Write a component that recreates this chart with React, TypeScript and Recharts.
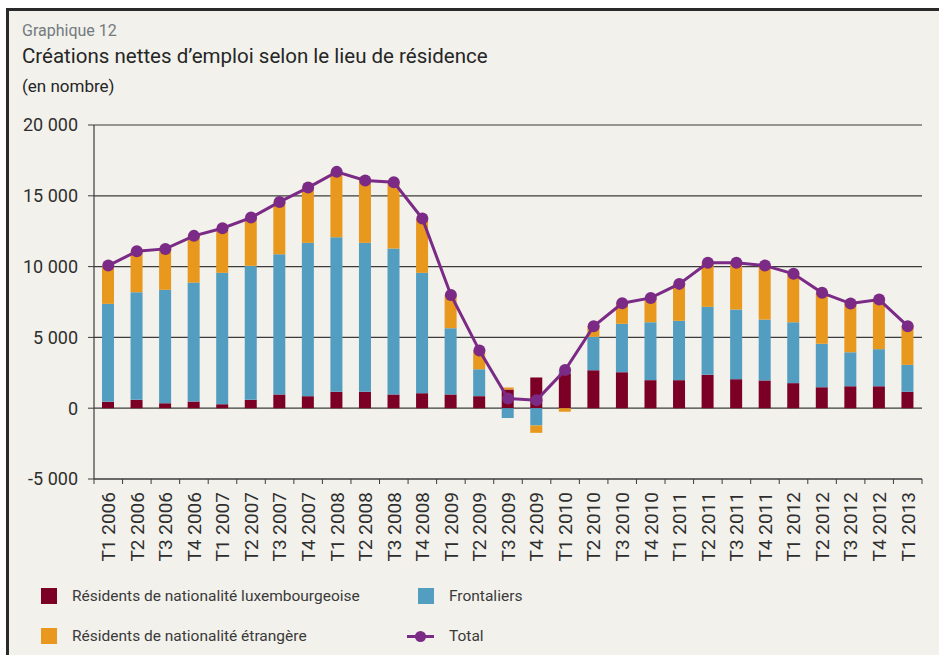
import React from "react";
import {
  Bar,
  CartesianGrid,
  ComposedChart,
  Line,
  XAxis,
  YAxis,
} from "recharts";

const quarters = [
  "T1 2006", "T2 2006", "T3 2006", "T4 2006",
  "T1 2007", "T2 2007", "T3 2007", "T4 2007",
  "T1 2008", "T2 2008", "T3 2008", "T4 2008",
  "T1 2009", "T2 2009", "T3 2009", "T4 2009",
  "T1 2010", "T2 2010", "T3 2010", "T4 2010",
  "T1 2011", "T2 2011", "T3 2011", "T4 2011",
  "T1 2012", "T2 2012", "T3 2012", "T4 2012",
  "T1 2013",
];

// Résidents de nationalité luxembourgeoise
const luxembourgeois = [
  450, 590, 350, 470, 280, 590, 970, 850, 1160, 1160, 970, 1060,
  970, 850, 1320, 2170, 2470, 2680, 2540, 1980, 1980, 2360, 2050, 1960,
  1770, 1480, 1550, 1550, 1160,
];

// Frontaliers
const frontaliers = [
  6920, 7600, 8010, 8400, 9280, 9460, 9900, 10830, 10910, 10520, 10310, 8500,
  4680, 1900, -700, -1220, 200, 2360, 3420, 4090, 4190, 4800, 4920, 4300,
  4300, 3070, 2400, 2620, 1900,
];

// Résidents de nationalité étrangère
const etrangers = [
  2700, 2890, 2890, 3300, 3150, 3410, 3700, 3900, 4620, 4400, 4680, 3830,
  2350, 1320, 140, -520, -250, 750, 1450, 1720, 2610, 3110, 3300, 3810,
  3420, 3600, 3440, 3500, 2730,
];

const total = [
  10070, 11080, 11250, 12170, 12710, 13460, 14570, 15580, 16690, 16080, 15960, 13390,
  8000, 4070, 690, 570, 2700, 5790, 7410, 7790, 8780, 10270, 10270, 10070,
  9490, 8150, 7390, 7670, 5790,
];

const yTicks = [-5000, 0, 5000, 10000, 15000, 20000];

const COLORS = {
  lux: "#7c0025",
  front: "#529dc0",
  etr: "#e8981d",
  total: "#7b2a85",
  grid: "#3c3c3c",
  text: "#2e2e2e",
};

const W = 939;
const H = 655;
const M = { top: 125, right: 17, left: 0, bottom: 86 };
const Y_AXIS_W = 94;
const BAND = (W - M.right - M.left - Y_AXIS_W) / quarters.length;

const data = quarters.map((q, i) => ({
  q,
  lux: luxembourgeois[i],
  front: frontaliers[i],
  etr: etrangers[i],
  total: total[i],
}));

const fmt = (v: number) => {
  const s = Math.abs(v).toString().replace(/\B(?=(\d{3})+(?!\d))/g, " ");
  return v < 0 ? `-${s}` : s;
};

const FONT = "Roboto, 'Open Sans', sans-serif";

function QuarterTick(props: any) {
  const { x, y, payload, index } = props;
  const last = index === quarters.length - 1;
  return (
    <g>
      <line x1={x - BAND / 2} x2={x - BAND / 2} y1={y - 13} y2={y - 8} stroke={COLORS.grid} />
      {last && (
        <line x1={x + BAND / 2} x2={x + BAND / 2} y1={y - 13} y2={y - 8} stroke={COLORS.grid} />
      )}
      <text
        x={x}
        y={y}
        transform={`rotate(-90 ${x} ${y})`}
        textAnchor="end"
        dy="0.36em"
        fontSize={19}
        fill={COLORS.text}
        fontFamily={FONT}
      >
        {payload.value}
      </text>
    </g>
  );
}

function Swatch({ color }: { color: string }) {
  return (
    <span
      style={{
        position: "absolute",
        left: 0,
        top: 0,
        width: 16,
        height: 16,
        background: color,
      }}
    />
  );
}

function LegendItem({
  left,
  top,
  label,
  children,
}: {
  left: number;
  top: number;
  label: string;
  children: React.ReactNode;
}) {
  return (
    <div style={{ position: "absolute", left, top, height: 16 }}>
      {children}
      <span
        style={{
          position: "absolute",
          left: 31,
          top: -2,
          whiteSpace: "nowrap",
          fontSize: 15.5,
          color: "#3a3a3a",
          lineHeight: "20px",
        }}
      >
        {label}
      </span>
    </div>
  );
}

export default function App() {
  return (
    <div
      style={{
        position: "absolute",
        left: 0,
        top: 0,
        width: W,
        height: H,
        background: "#fff",
        overflow: "hidden",
        fontFamily: FONT,
      }}
    >
      <div
        style={{
          position: "absolute",
          left: 6,
          top: 8,
          width: W - 6,
          height: H - 8,
          background: "#f2f1eb",
          borderLeft: "3px solid #2a2a2a",
          borderTop: "3px solid #2a2a2a",
          boxSizing: "border-box",
        }}
      />
      <div style={{ position: "absolute", left: 22, top: 21, fontSize: 16, color: "#737a80" }}>
        Graphique 12
      </div>
      <div style={{ position: "absolute", left: 22, top: 44, fontSize: 20.5, color: "#262626" }}>
        Créations nettes d’emploi selon le lieu de résidence
      </div>
      <div style={{ position: "absolute", left: 22, top: 76, fontSize: 17, color: "#262626" }}>
        (en nombre)
      </div>

      <div style={{ position: "absolute", left: 0, top: 0 }}>
        <ComposedChart
          width={W}
          height={H}
          data={data}
          margin={M}
          stackOffset="sign"
          barSize={12}
        >
          <CartesianGrid
            vertical={false}
            stroke={COLORS.grid}
            strokeWidth={1.2}
          />
          <XAxis
            dataKey="q"
            interval={0}
            height={90}
            tickSize={5}
            tickMargin={8}
            tickLine={false}
            axisLine={{ stroke: COLORS.grid, strokeWidth: 1.2 }}
            tick={<QuarterTick />}
          />
          <YAxis
            width={Y_AXIS_W}
            domain={[-5000, 20000]}
            ticks={yTicks}
            interval={0}
            tickFormatter={fmt}
            tickSize={6}
            tickMargin={10}
            axisLine={{ stroke: COLORS.grid, strokeWidth: 1.2 }}
            tickLine={{ stroke: COLORS.grid }}
            tick={{ fill: COLORS.text, fontSize: 18, fontFamily: FONT }}
          />
          <YAxis
            yAxisId="right"
            orientation="right"
            width={0}
            domain={[-5000, 20000]}
            tick={false}
            tickLine={false}
            axisLine={{ stroke: COLORS.grid, strokeWidth: 1.2 }}
          />
          <Bar dataKey="lux" stackId="a" fill={COLORS.lux} isAnimationActive={false} />
          <Bar dataKey="front" stackId="a" fill={COLORS.front} isAnimationActive={false} />
          <Bar dataKey="etr" stackId="a" fill={COLORS.etr} isAnimationActive={false} />
          <Line
            type="linear"
            dataKey="total"
            stroke={COLORS.total}
            strokeWidth={3}
            dot={{ r: 6, fill: COLORS.total, stroke: "none" }}
            isAnimationActive={false}
          />
        </ComposedChart>
      </div>

      <LegendItem left={41} top={588} label="Résidents de nationalité luxembourgeoise">
        <Swatch color={COLORS.lux} />
      </LegendItem>
      <LegendItem left={418} top={588} label="Frontaliers">
        <Swatch color={COLORS.front} />
      </LegendItem>
      <LegendItem left={41} top={628} label="Résidents de nationalité étrangère">
        <Swatch color={COLORS.etr} />
      </LegendItem>
      <LegendItem left={418} top={628} label="Total">
        <svg width={30} height={16} style={{ position: "absolute", left: -11, top: 0 }}>
          <line x1={0} x2={27} y1={8.5} y2={8.5} stroke={COLORS.total} strokeWidth={3} />
          <circle cx={13.5} cy={8.5} r={5.5} fill={COLORS.total} />
        </svg>
      </LegendItem>
    </div>
  );
}
